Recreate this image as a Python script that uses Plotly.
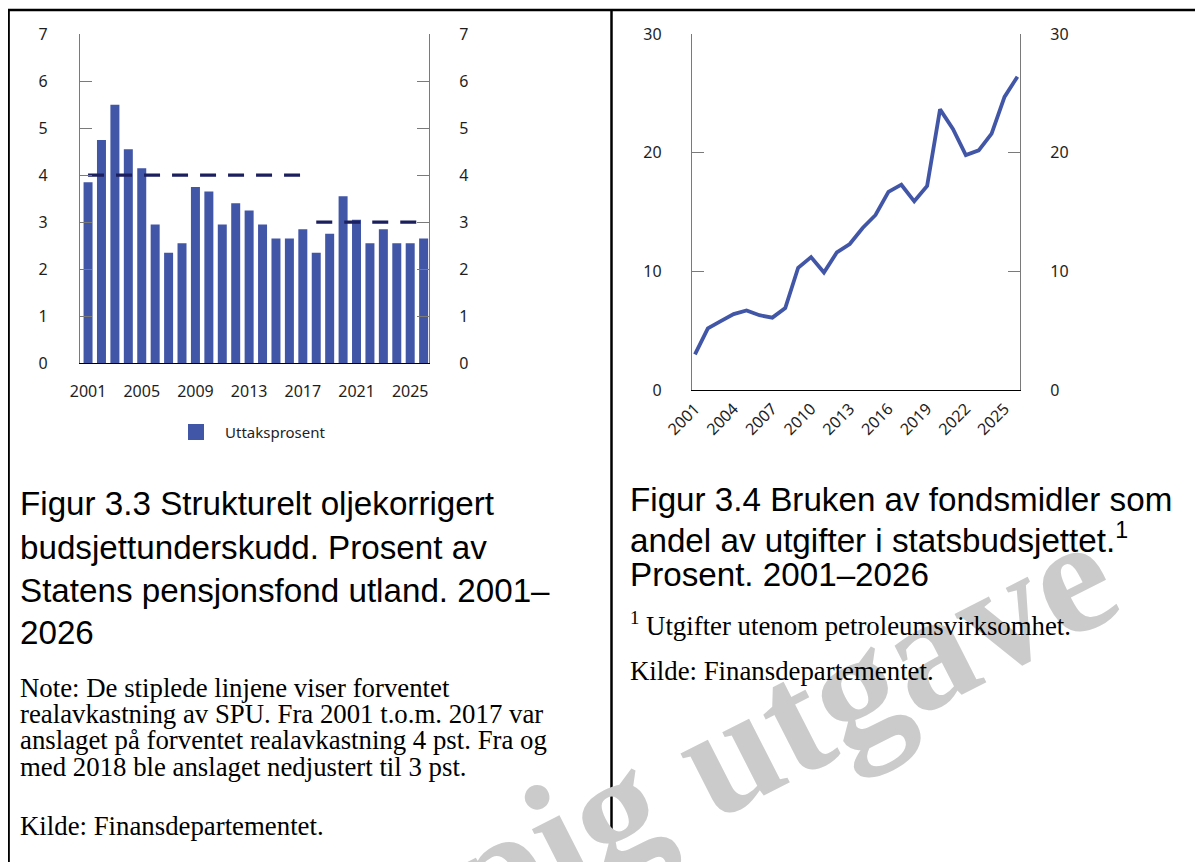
import plotly.graph_objects as go

# The page adds an 8 px body margin, so the figure is drawn 8 px in from the corner.
OFF = 8
W, H = 1203 - OFF, 862 - OFF


def px(x):
    return (x - OFF) / W


def py(y):
    return 1 - (y - OFF) / H


# ---------------- data ----------------
years = [2001, 2002, 2003, 2004, 2005, 2006, 2007, 2008, 2009, 2010, 2011, 2012, 2013,
         2014, 2015, 2016, 2017, 2018, 2019, 2020, 2021, 2022, 2023, 2024, 2025, 2026]

# Figur 3.3 – Uttaksprosent (prosent av SPU)
uttaksprosent = [3.85, 4.75, 5.5, 4.55, 4.15, 2.95, 2.35, 2.55, 3.75, 3.65, 2.95, 3.4, 3.25,
                 2.95, 2.65, 2.65, 2.85, 2.35, 2.75, 3.55, 3.05, 2.55, 2.85, 2.55, 2.55, 2.65]

# Forventet realavkastning (stiplede linjer)
forv4_years = [2001, 2017]
forv4_values = [4, 4]
forv3_years = [2018, 2026]
forv3_values = [3, 3]

# Figur 3.4 – Bruken av fondsmidler som andel av utgifter
fondsbruk = [3.0, 5.2, 5.8, 6.4, 6.7, 6.3, 6.1, 6.9, 10.3, 11.2, 9.9, 11.6, 12.3,
             13.65, 14.75, 16.7, 17.3, 15.9, 17.2, 23.65, 22.0, 19.8, 20.2, 21.6, 24.7, 26.4]

bar_xticks = [2001, 2005, 2009, 2013, 2017, 2021, 2025]
bar_yticks = [0, 1, 2, 3, 4, 5, 6, 7]
line_xticks = [2001, 2004, 2007, 2010, 2013, 2016, 2019, 2022, 2025]
line_yticks = [0, 10, 20, 30]

# ---------------- style ----------------
BAR = "#4256a7"
NAVY = "#1b1f5e"
GREY = "#7a7a7a"
TICKFONT = dict(family="Noto Sans", size=16, color="#1e1e1e")
TITLEFONT = dict(family="Liberation Sans", size=33.2, color="#000000")
NOTEFONT = dict(family="Liberation Serif", size=26.8, color="#000000")

fig = go.Figure()

fig.add_trace(go.Bar(x=years, y=uttaksprosent, width=0.67, marker_color=BAR,
                     marker_line_width=0, xaxis="x", yaxis="y", name="Uttaksprosent",
                     showlegend=False))
fig.add_trace(go.Scatter(x=forv4_years, y=forv4_values, mode="lines", xaxis="x", yaxis="y2",
                         line=dict(color=NAVY, width=3.3, dash="16px,12px"), showlegend=False))
fig.add_trace(go.Scatter(x=forv3_years, y=forv3_values, mode="lines", xaxis="x", yaxis="y2",
                         line=dict(color=NAVY, width=3.3, dash="16px,12px"), showlegend=False))
fig.add_trace(go.Scatter(x=years, y=fondsbruk, mode="lines", xaxis="x2", yaxis="y3",
                         line=dict(color=BAR, width=3.8), showlegend=False))
fig.add_trace(go.Scatter(x=years, y=fondsbruk, mode="lines", xaxis="x2", yaxis="y4",
                         line=dict(color=BAR, width=0), opacity=0, hoverinfo="skip",
                         showlegend=False))


def yaxis_style(rng, ticks, side, standoff, **kw):
    d = dict(range=rng, tickvals=ticks, ticktext=[str(t) for t in ticks], ticks="inside",
             ticklen=12, tickwidth=1.3, tickcolor=GREY, showline=True, linecolor=GREY,
             linewidth=1.3, showgrid=False, zeroline=False, tickfont=TICKFONT, side=side,
             ticklabelstandoff=standoff, automargin=False, fixedrange=True)
    d.update(kw)
    return d


left_dom_y = [py(363), py(34.3)]
right_dom_y = [py(390), py(34)]

fig.update_layout(
    width=W, height=H, template="none",
    margin=dict(l=0, r=0, t=0, b=0),
    paper_bgcolor="white", plot_bgcolor="rgba(0,0,0,0)",
    showlegend=False,
    xaxis=dict(domain=[px(80), px(429)], range=[2000.4, 2026.4], anchor="y",
               tickvals=bar_xticks, ticktext=[str(t) for t in bar_xticks], ticks="",
               showline=True, linecolor="#000000", linewidth=1.3, showgrid=False,
               zeroline=False, tickfont=TICKFONT, ticklabelstandoff=14, automargin=False,
               fixedrange=True),
    yaxis=yaxis_style([0, 7], bar_yticks, "left", 28, domain=left_dom_y, anchor="x"),
    yaxis2=yaxis_style([0, 7], bar_yticks, "right", 26, overlaying="y", anchor="x"),
    xaxis2=dict(domain=[px(692), px(1020)], range=[2000.77, 2026.2], anchor="y3",
                tickvals=line_xticks, ticktext=[str(t) for t in line_xticks], ticks="",
                tickangle=-45, showline=True, linecolor="#000000", linewidth=1.3,
                showgrid=False, zeroline=False, tickfont=TICKFONT, ticklabelstandoff=2,
                automargin=False, fixedrange=True),
    yaxis3=yaxis_style([0, 30], line_yticks, "left", 26, domain=right_dom_y, anchor="x2"),
    yaxis4=yaxis_style([0, 30], line_yticks, "right", 26, overlaying="y3", anchor="x2"),
)

# frame lines
frame = dict(type="line", xref="paper", yref="paper", line=dict(color="#000000", width=2.5))
fig.add_shape(x0=px(8), x1=px(1203), y0=py(10), y1=py(10), **frame)
fig.add_shape(x0=px(8.6), x1=px(8.6), y0=py(10), y1=py(862), **frame)
fig.add_shape(x0=px(611.5), x1=px(611.5), y0=py(10), y1=py(862), **frame)

# manual legend
fig.add_shape(type="rect", xref="paper", yref="paper", x0=px(188), x1=px(204),
              y0=py(440), y1=py(424), fillcolor=BAR, line=dict(width=0))

ann = []
# watermark
ann.append(dict(text="<b>Foreløpig utgave</b>", x=px(577), y=py(829), xanchor="center",
                yanchor="middle", textangle=-27,
                font=dict(family="Liberation Serif", size=164, color="#cbcbcb")))
ann.append(dict(text="Uttaksprosent", x=px(223), y=py(432), xanchor="left",
                yanchor="middle", font=dict(family="Noto Sans", size=15, color="#1e1e1e")))

left_title = ["Figur 3.3 Strukturelt oljekorrigert", "budsjettunderskudd. Prosent av",
              "Statens pensjonsfond utland. 2001–", "2026"]
for t, y in zip(left_title, [503, 547, 590, 632]):
    ann.append(dict(text=t, x=px(18), y=py(y), xanchor="left", yanchor="middle",
                    font=TITLEFONT))
left_note = ["Note: De stiplede linjene viser forventet",
             "realavkastning av SPU. Fra 2001 t.o.m. 2017 var",
             "anslaget på forventet realavkastning 4 pst. Fra og",
             "med 2018 ble anslaget nedjustert til 3 pst.",
             "Kilde: Finansdepartementet."]
for t, y in zip(left_note, [688, 714, 740, 767, 826]):
    ann.append(dict(text=t, x=px(18), y=py(y), xanchor="left", yanchor="middle",
                    font=NOTEFONT))

right_title = ["Figur 3.4 Bruken av fondsmidler som",
               "andel av utgifter i statsbudsjettet.<sup>1</sup>",
               "Prosent. 2001–2026"]
for t, y in zip(right_title, [499, 538, 574]):
    ann.append(dict(text=t, x=px(628), y=py(y), xanchor="left", yanchor="middle",
                    font=TITLEFONT))
right_note = ["<sup>1</sup> Utgifter utenom petroleumsvirksomhet.",
              "Kilde: Finansdepartementet."]
for t, y in zip(right_note, [624, 671]):
    ann.append(dict(text=t, x=px(628), y=py(y), xanchor="left", yanchor="middle",
                    font=NOTEFONT))

for a in ann:
    a.setdefault("xref", "paper")
    a.setdefault("yref", "paper")
    a.setdefault("showarrow", False)
fig.update_layout(annotations=ann)

fig.write_html("out.html")
